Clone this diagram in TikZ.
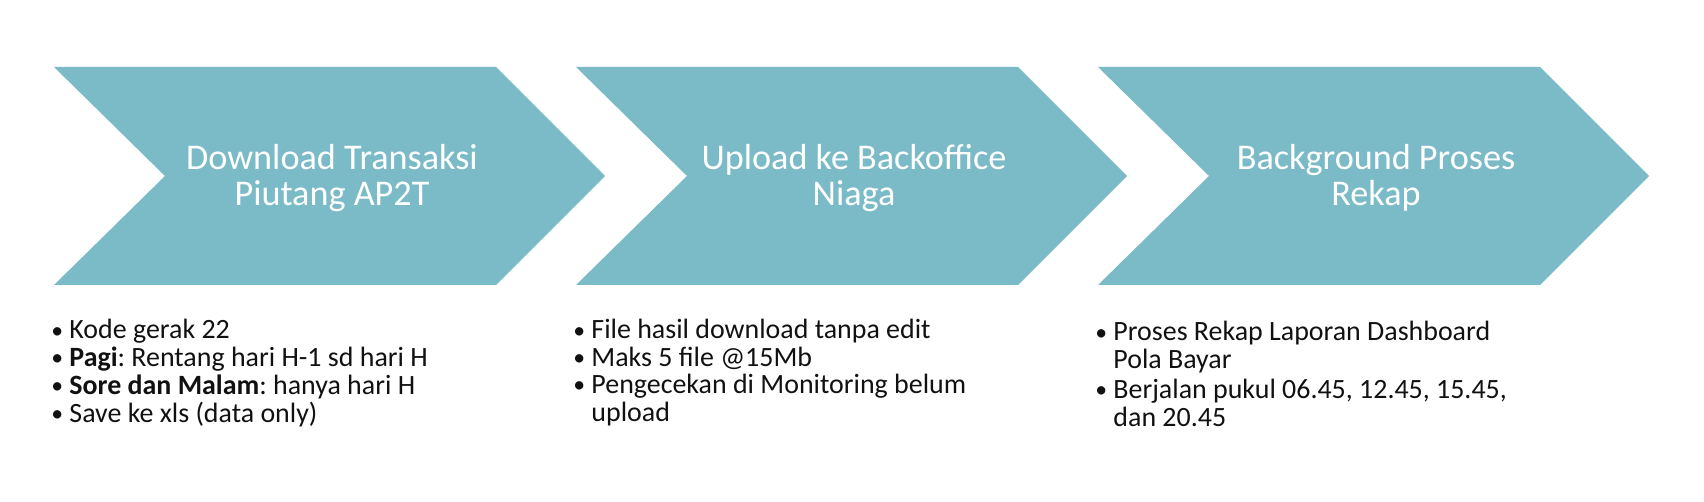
\documentclass[tikz,border=0pt]{standalone}
\usepackage{fontspec}
\setmainfont{Carlito}
\frenchspacing
\definecolor{chevronfill}{HTML}{7ABBC7}
\definecolor{notetext}{HTML}{111111}
\newcommand{\itembreak}{\\[1.7pt]}
\newcommand{\dotmark}{\raisebox{0.5pt}{\fontsize{13.5}{13.5}\selectfont\textbullet}}

\begin{document}
\begin{tikzpicture}[
  x=0.02cm, y=-0.02cm,
  chevron/.style={fill=chevronfill, draw=none},
  title/.style={text=white, align=center, font=\fontsize{20.6}{20.6}\selectfont},
  notes/.style={anchor=base west, inner sep=0pt, text=notetext,
                font=\fontsize{15.9}{15.2}\selectfont}
]
\useasboundingbox (0,0) rectangle (1704,502);
% chevrons with their titles
\foreach \x/\name/\label in {54/dl/{Download Transaksi\\Piutang AP2T},
                             576/up/{Upload ke Backoffice\\Niaga},
                             1098/bg/{Background Proses\\Rekap}}{
  \fill[chevron] (\x,67) -- (\x+442,67) -- (\x+551,176) -- (\x+442,285)
                 -- (\x,285) -- (\x+111,176) -- cycle;
  \node[title] (\name) at (\x+278,178) {\label};
}
% notes under each step
\node[notes] (dlnotes) at (51,339) {%
  \begin{tabular}[t]{@{}p{10.3pt}@{}l@{}}
  \dotmark & Kode gerak 22\\
  \dotmark & \textbf{Pagi}: Rentang hari H-1 sd hari H\\
  \dotmark & \textbf{Sore dan Malam}: hanya hari H\\
  \dotmark & Save ke xls (data only)
  \end{tabular}};
\node[notes] (upnotes) at (573,339) {%
  \begin{tabular}[t]{@{}p{10.3pt}@{}l@{}}
  \dotmark & File hasil download tanpa edit\\
  \dotmark & Maks 5 file @15Mb\\
  \dotmark & Pengecekan di Monitoring belum\\
           & upload
  \end{tabular}};
\node[notes] (bgnotes) at (1095,341) {%
  \begin{tabular}[t]{@{}p{10.3pt}@{}l@{}}
  \dotmark & Proses Rekap Laporan Dashboard\\
           & Pola Bayar\itembreak
  \dotmark & Berjalan pukul 06.45, 12.45, 15.45,\\
           & dan 20.45
  \end{tabular}};
\end{tikzpicture}
\end{document}
